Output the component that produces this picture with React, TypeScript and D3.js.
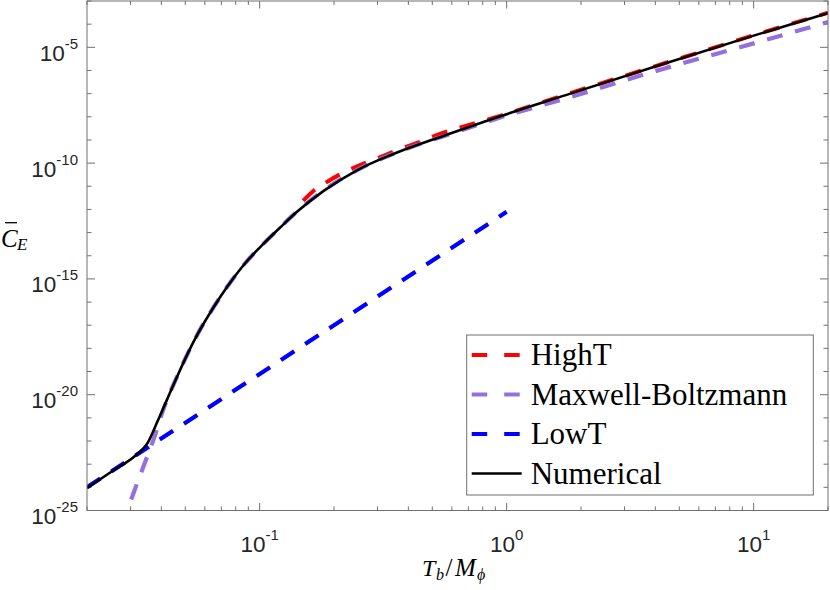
import React from 'react';
import * as d3 from 'd3';

// ---- data ----
const numX = [0.02, 0.0251, 0.0316, 0.0351, 0.0386, 0.0423, 0.0464, 0.0509, 0.056, 0.0653, 0.074, 0.0865, 0.101, 0.1216, 0.1416, 0.1816, 0.2477, 0.338, 0.448, 0.54, 0.942, 1.81, 4.33, 10, 20];
const numY = [9.3e-25, 4.7e-24, 2.5e-23, 7.9e-23, 7.1e-22, 6.6e-21, 6.3e-20, 5.4e-19, 4.0e-18, 6.3e-17, 4.7e-16, 4.2e-15, 2.5e-14, 1.74e-13, 7.9e-13, 6.3e-12, 4.9e-11, 2.2e-10, 6.9e-10, 1.35e-9, 1.05e-8, 1.0e-7, 1.95e-6, 3.2e-5, 3.0e-4];

const highX = [0.15, 0.165, 0.19, 0.212, 0.248, 0.28, 0.328, 0.372, 0.434, 0.49, 0.942, 1.81, 4.33, 10, 20];
const highY = [2.4e-12, 6.3e-12, 1.7e-11, 3.3e-11, 7.2e-11, 1.23e-10, 2.4e-10, 4.2e-10, 7.4e-10, 1.26e-9, 1.1e-8, 1.05e-7, 2.0e-6, 3.3e-5, 3.1e-4];

const mbX = [0.0275, 0.0291, 0.031, 0.0346, 0.0379, 0.0398, 0.0423, 0.0464, 0.0509, 0.056, 0.0653, 0.074, 0.0865, 0.101, 0.1216, 0.1416, 0.1816, 0.2477, 0.338, 0.448, 0.54, 0.942, 1.81, 4.33, 10, 20];
const mbY = [2e-26, 1e-25, 6.5e-25, 1.48e-23, 2.1e-22, 1.12e-21, 6.6e-21, 6.3e-20, 5.4e-19, 4.0e-18, 6.3e-17, 4.7e-16, 4.2e-15, 2.5e-14, 1.74e-13, 8.1e-13, 6.6e-12, 5.0e-11, 2.25e-10, 6.9e-10, 1.32e-9, 9.3e-9, 7.1e-8, 1.2e-6, 1.48e-5, 1.23e-4];

const lowX = [0.02, 1];
const lowY = [1.0e-24, 7.9e-13];

const xTickExps = [-1, 0, 1];
const yTickExps = [-25, -20, -15, -10, -5];
const legendLabels = ['HighT', 'Maxwell-Boltzmann', 'LowT', 'Numerical'];
const legendColors = ['#ff0000', '#9370db', '#0000ff', '#000000'];
const legendDashed = [true, true, true, false];

const W = 830;
const H = 590;
const L = 87, R = 828, T = 1, B = 510.5;
const AX = '#707070';
const TXT = '#262626';
const SERIF = '"Liberation Serif", "DejaVu Serif", serif';
const SANS = '"Liberation Sans", Arimo, Arial, sans-serif';

export default function App() {
  const x = d3.scaleLog().domain([0.02, 20]).range([L, R]);
  const y = d3.scaleLog().domain([1e-25, 1e-3]).range([B, T]);

  const path = (xs: number[], ys: number[]) =>
    d3.line<[number, number]>()
      .x(d => x(d[0]))
      .y(d => y(d[1]))
      .curve(d3.curveMonotoneX)(xs.map((v, i) => [v, ys[i]] as [number, number])) || '';

  const yDecades = d3.range(-25, -2).map(e => Math.pow(10, e));
  const xMinor: number[] = [];
  [0.01, 0.1, 1, 10].forEach(d => {
    for (let k = 2; k <= 9; k++) {
      const v = d * k;
      if (v >= 0.02 && v <= 20) xMinor.push(v);
    }
  });
  const xMajor = xTickExps.map(e => Math.pow(10, e));
  const yMajorSet = new Set(yTickExps);

  const dash = '16 13';

  return (
    <svg width={W} height={H} style={{ position: 'absolute', left: 0, top: 0, background: '#fff' }}>
      <defs>
        <clipPath id="plotclip">
          <rect x={L} y={T} width={R - L} height={B - T} />
        </clipPath>
      </defs>
      <rect x={0} y={0} width={W} height={H} fill="#fff" />

      {/* ticks */}
      <g stroke={AX} strokeWidth={1}>
        {yDecades.map((v, i) => {
          const e = Math.round(Math.log10(v));
          const len = yMajorSet.has(e) ? 8 : 4.5;
          const yy = y(v);
          return (
            <g key={'yt' + i}>
              <line x1={L} x2={L + len} y1={yy} y2={yy} />
              <line x1={R} x2={R - len} y1={yy} y2={yy} />
            </g>
          );
        })}
        {xMinor.map((v, i) => (
          <g key={'xm' + i}>
            <line x1={x(v)} x2={x(v)} y1={B} y2={B - 4} />
            <line x1={x(v)} x2={x(v)} y1={T} y2={T + 4} />
          </g>
        ))}
        {xMajor.map((v, i) => (
          <g key={'xM' + i}>
            <line x1={x(v)} x2={x(v)} y1={B} y2={B - 7.5} />
            <line x1={x(v)} x2={x(v)} y1={T} y2={T + 7.5} />
          </g>
        ))}
      </g>

      {/* curves */}
      <g clipPath="url(#plotclip)" fill="none">
        <path d={path(highX, highY)} stroke="#ff0000" strokeWidth={4} strokeDasharray={dash} />
        <path d={path(mbX, mbY)} stroke="#9370db" strokeWidth={4.2} strokeDasharray={dash} />
        <path d={path(lowX, lowY)} stroke="#0000ff" strokeWidth={4.2} strokeDasharray={dash} />
        <path d={path(numX, numY)} stroke="#000000" strokeWidth={2.6} />
      </g>

      {/* frame */}
      <rect x={L} y={T} width={R - L} height={B - T} fill="none" stroke={AX} strokeWidth={1} />

      {/* tick labels */}
      <g style={{ fontFamily: SANS }} fill={TXT}>
        {yTickExps.map(e => (
          <text key={'yl' + e} x={78} y={y(Math.pow(10, e)) + 13.5} textAnchor="end" fontSize={22.5}>
            10<tspan fontSize={15} dy={-12}>{'-' + Math.abs(e)}</tspan>
          </text>
        ))}
        {xTickExps.map(e => (
          <text key={'xl' + e} x={x(Math.pow(10, e))} y={551.7} textAnchor="middle" fontSize={22.5}>
            10<tspan fontSize={15} dy={-11.7}>{e < 0 ? '-' + Math.abs(e) : String(e)}</tspan>
          </text>
        ))}
      </g>

      {/* x label T_b / M_phi */}
      <g style={{ fontFamily: SERIF }} fill="#000">
        <text x={422} y={576} fontSize={24} fontStyle="italic">T</text>
        <text x={436} y={580} fontSize={16} fontStyle="italic">b</text>
        <text x={445.5} y={576} fontSize={25}>/</text>
        <text x={455} y={576} fontSize={25} fontStyle="italic">M</text>
        <text x={477} y={580} fontSize={16} fontStyle="italic">ϕ</text>
      </g>

      {/* y label C-bar_E */}
      <g style={{ fontFamily: SERIF }} fill="#000">
        <text x={1} y={246.5} fontSize={25} fontStyle="italic">C</text>
        <line x1={5} x2={17} y1={222.7} y2={222.7} stroke="#000" strokeWidth={1.3} />
        <text x={17} y={250} fontSize={17} fontStyle="italic">E</text>
      </g>

      {/* legend */}
      <g>
        <rect x={466.7} y={335} width={346.6} height={160} fill="#fff" stroke={AX} strokeWidth={1} />
        {legendLabels.map((lab, i) => {
          const cy = 355 + i * 39.5;
          return (
            <g key={'lg' + i}>
              <line x1={471.7} x2={521.7} y1={cy} y2={cy} stroke={legendColors[i]}
                strokeWidth={legendDashed[i] ? 4 : 2.6}
                strokeDasharray={legendDashed[i] ? '15.5 17' : undefined} />
              <text x={530.7} y={cy + 10} fontSize={31} fill="#000" style={{ fontFamily: SERIF }}>{lab}</text>
            </g>
          );
        })}
      </g>
    </svg>
  );
}
